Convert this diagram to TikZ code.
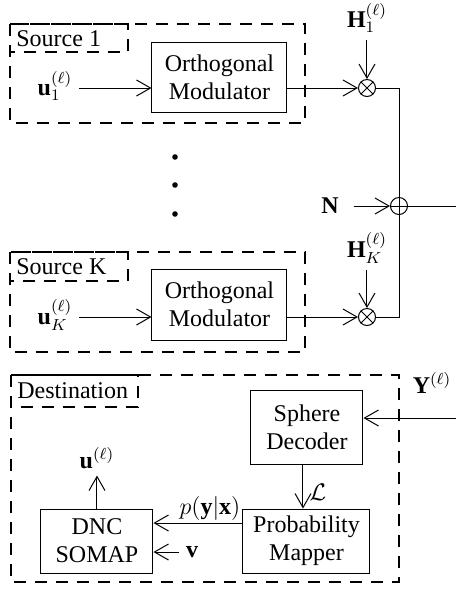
\documentclass[tikz,border=0pt]{standalone}
\usepackage{fontspec}
\setmainfont{Liberation Serif}
\usetikzlibrary{arrows.meta}
\tikzset{
  blk/.style={draw, line width=0.5pt, inner sep=1pt, align=center},
  dashbox/.style={draw, dash pattern=on 6pt off 4.5pt, line width=1pt},
  opnode/.style={draw, circle, inner sep=0pt, minimum size=8.5pt, line width=0.5pt},
  sig/.style={-{Straight Barb[length=7pt,width=8pt]}, line width=0.5pt},
  tag/.style={anchor=west, inner sep=2pt},
}

\begin{document}
\begin{tikzpicture}[x=0.5pt, y=-0.5pt, every node/.style={font=\large}]
  \useasboundingbox (0,0) rectangle (456,591);

  % source 1
  \draw[dashbox] (10,24) rectangle (305,123);
  \draw[dashbox] (10,24) rectangle (128,52);
  \node[tag] (src1) at (12,39) {Source 1};
  \node[blk, minimum width=67.5pt, minimum height=35pt] (mod1) at (219.5,77) {Orthogonal\\Modulator};
  \node (u1) at (55,86) {$\mathbf{u}_1^{(\ell)}$};
  \node[opnode] (m1) at (367,88) {};
  \draw (m1.north west) -- (m1.south east) (m1.north east) -- (m1.south west);
  \node (h1) at (367,18) {$\mathbf{H}_1^{(\ell)}$};

  % dots
  \foreach \dy in {157,185,214}
    \fill (175,\dy) circle (1.4pt);

  % source K
  \draw[dashbox] (10,252) rectangle (305,352);
  \draw[dashbox] (10,252) rectangle (128,281);
  \node[tag] (srcK) at (12,267) {Source K};
  \node[blk, minimum width=67.5pt, minimum height=35.5pt] (modK) at (219.5,304.5) {Orthogonal\\Modulator};
  \node (uK) at (55,315) {$\mathbf{u}_K^{(\ell)}$};
  \node[opnode] (mK) at (367,317) {};
  \draw (mK.north west) -- (mK.south east) (mK.north east) -- (mK.south west);
  \node (hK) at (367,248) {$\mathbf{H}_K^{(\ell)}$};

  % adder
  \node[opnode] (add) at (399,206) {};
  \draw (add.north) -- (add.south) (add.west) -- (add.east);
  \node (noise) at (330,206) {$\mathbf{N}$};
  \coordinate (chout) at (456,206);

  % destination
  \draw[dashbox] (11,375) rectangle (399,582);
  \draw[dashbox] (11,375) rectangle (138,407);
  \node[tag] (dst) at (13,391) {Destination};
  \node[blk, minimum width=56pt, minimum height=37pt] (sph) at (307,427) {Sphere\\Decoder};
  \node[blk, minimum width=63.5pt, minimum height=32pt] (prob) at (306.5,541) {Probability\\Mapper};
  \node[blk, minimum width=56pt, minimum height=32pt] (dnc) at (97,541) {DNC\\SOMAP};
  \node (yl) at (432,383) {$\mathbf{Y}^{(\ell)}$};
  \coordinate (yin) at (456,418);
  \node (vin) at (192,552) {$\mathbf{v}$};
  \node (uout) at (97,458) {$\mathbf{u}^{(\ell)}$};

  % connectors
  \draw[sig] (u1.east |- m1) -- (mod1.west |- m1);
  \draw[sig] (mod1.east |- m1) -- (m1.west);
  \draw[sig] (h1.south) -- (m1.north);
  \draw (m1.east) -| (add.north);
  \draw[sig] (uK.east |- mK) -- (modK.west |- mK);
  \draw[sig] (modK.east |- mK) -- (mK.west);
  \draw[sig] (hK.south) -- (mK.north);
  \draw (mK.east) -| (add.south);
  \draw[sig] ([xshift=4pt]noise.east) -- (add.west);
  \draw (add.east) -- (chout);
  \draw[sig] (yin) -- (sph.east |- yin);
  \draw[sig] ([xshift=-2pt]sph.south) -- ([xshift=-2pt]sph.south |- prob.north)
    node[midway, right, inner sep=3pt, yshift=-3pt] {$\mathcal{L}$};
  \draw[sig] ([yshift=9pt]prob.west) -- ([yshift=9pt]prob.west -| dnc.east)
    node[midway, above, xshift=6pt, inner sep=1pt] {$p(\mathbf{y}|\mathbf{x})$};
  \draw[sig] (vin.west) -- (vin -| dnc.east);
  \draw[sig] (dnc.north) -- (uout.south);
\end{tikzpicture}
\end{document}
